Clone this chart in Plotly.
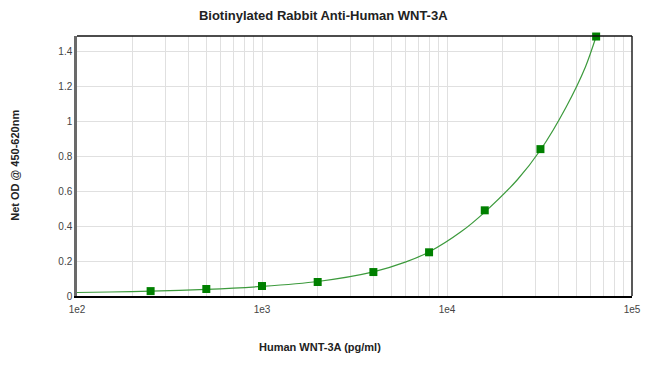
import plotly.graph_objects as go

# Data
conc = [250, 500, 1000, 2000, 4000, 8000, 16000, 32000, 64000]
od = [0.028, 0.040, 0.057, 0.080, 0.137, 0.250, 0.490, 0.840, 1.484]

curve_x = [100, 150, 250, 500, 1000, 2000, 4000, 6000, 8000, 12000, 16000, 24000, 32000, 44000, 56000, 64000]
curve_y = [0.020, 0.023, 0.028, 0.038, 0.055, 0.083, 0.138, 0.195, 0.252, 0.370, 0.480, 0.665, 0.835, 1.080, 1.310, 1.484]

x_major = [100, 1000, 10000, 100000]
x_major_text = ["1e2", "1e3", "1e4", "1e5"]
y_ticks = [0, 0.2, 0.4, 0.6, 0.8, 1.0, 1.2, 1.4]
y_tick_text = ["0", "0.2", "0.4", "0.6", "0.8", "1", "1.2", "1.4"]

title = "Biotinylated Rabbit Anti-Human WNT-3A"
x_title = "Human WNT-3A (pg/ml)"
y_title = "Net OD @ 450-620nm"

# all grid positions on log axis (1..9 per decade)
grid_vals = []
grid_text = []
for d in [100, 1000, 10000]:
    for m in range(1, 10):
        v = d * m
        grid_vals.append(v)
        grid_text.append(x_major_text[x_major.index(v)] if v in x_major else "")
grid_vals.append(100000)
grid_text.append("1e5")

fig = go.Figure()
fig.add_trace(go.Scatter(x=curve_x, y=curve_y, mode="lines",
                         line=dict(color="#3c9a3c", width=1.2, shape="spline", smoothing=0.8),
                         hoverinfo="skip", showlegend=False))
fig.add_trace(go.Scatter(x=conc, y=od, mode="markers",
                         marker=dict(symbol="square", size=8, color="#008000"),
                         showlegend=False, cliponaxis=False))

font = "Liberation Sans, Arial, sans-serif"
# page body has an 8px margin; figure is sized so the plot lands where the reference has it
fig.update_layout(
    width=642, height=360,
    margin=dict(l=69, r=18, t=28, b=72, autoexpand=False),
    paper_bgcolor="white", plot_bgcolor="white",
    title=dict(text="<b>" + title + "</b>", x=0.491, xanchor="center", y=0.98, yanchor="middle",
               font=dict(family=font, size=13, color="#222")),
    font=dict(family=font, size=10, color="#333"),
    xaxis=dict(type="log", range=[2, 5], tickvals=grid_vals, ticktext=grid_text,
               showgrid=True, gridcolor="#e0e0e0", gridwidth=1, automargin=False,
               showline=True, linecolor="black", linewidth=1.5, mirror=False,
               ticks="", ticklen=0, ticklabelstandoff=3, tickfont=dict(size=10, color="#444"),
               zeroline=False),
    yaxis=dict(range=[0, 1.487], tickvals=y_ticks, ticktext=y_tick_text,
               showgrid=True, gridcolor="#e0e0e0", gridwidth=1, automargin=False,
               showline=True, linecolor="#6a6a6a", linewidth=2.5, mirror=False,
               ticks="", tickfont=dict(size=10, color="#444"),
               zeroline=False),
    shapes=[dict(type="line", xref="paper", yref="paper", x0=1, x1=1, y0=0, y1=1,
                 line=dict(color="#222", width=1.5)),
            dict(type="line", xref="paper", yref="paper", x0=0, x1=1, y0=1, y1=1,
                 line=dict(color="#111", width=1.5))],
    annotations=[
        dict(text="<b>" + x_title + "</b>", xref="paper", yref="paper", x=0.438, y=-0.196,
             xanchor="center", yanchor="middle", showarrow=False,
             font=dict(family=font, size=11, color="#222")),
        dict(text="<b>" + y_title + "</b>", xref="paper", yref="paper", x=-0.112, y=0.504,
             xanchor="center", yanchor="middle", showarrow=False, textangle=-90,
             font=dict(family=font, size=11, color="#222")),
    ],
)

fig.write_html("out.html")
